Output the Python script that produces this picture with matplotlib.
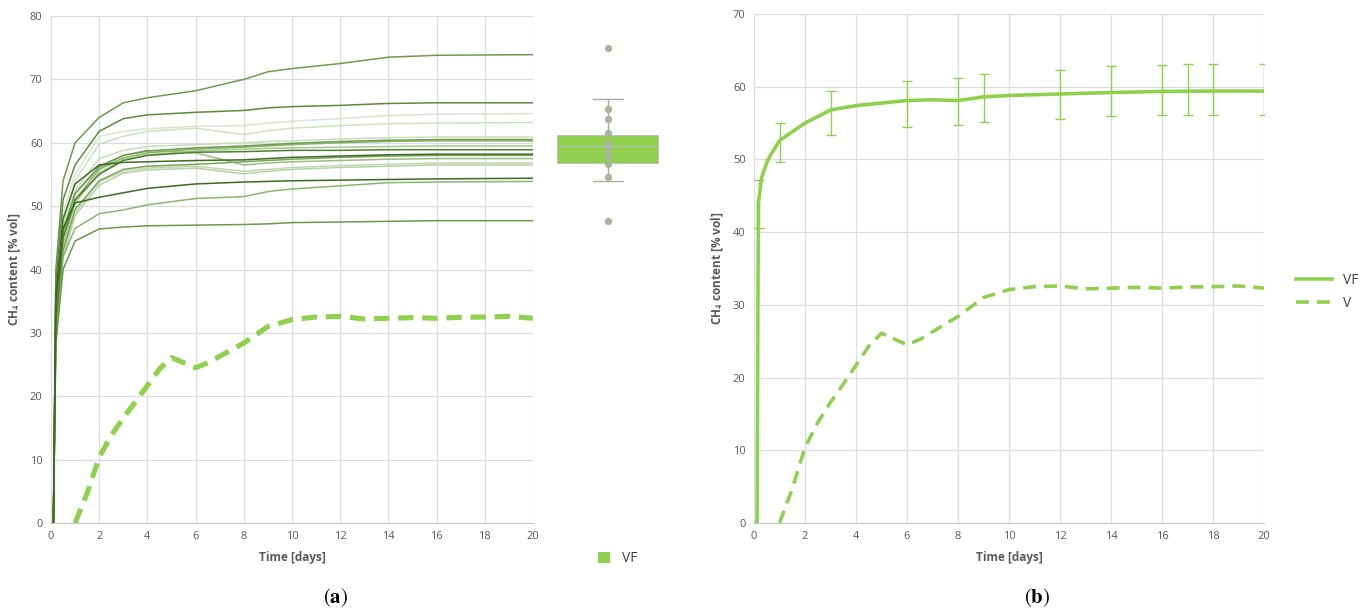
import numpy as np
import matplotlib
matplotlib.use("Agg")
import matplotlib.pyplot as plt
import matplotlib.patches as mpatches
from matplotlib.lines import Line2D

plt.rcParams["font.family"] = ["Open Sans", "DejaVu Sans"]
plt.rcParams["mathtext.fontset"] = "stix"

# time points (days) for the individual VF runs in panel (a)
run_time = [0, 0.1, 0.2, 0.5, 1, 2, 3, 4, 6, 8, 9, 10, 12, 14, 16, 20]
runs = [
    [0, 0, 40, 54, 60, 64.0, 66.3, 67.1, 68.2, 70.0, 71.2, 71.7, 72.5, 73.5, 73.8, 73.9],
    [0, 0, 38, 51, 56.5, 61.8, 63.8, 64.4, 64.8, 65.1, 65.5, 65.7, 65.9, 66.2, 66.3, 66.3],
    [0, 0, 36, 49, 55, 61.0, 61.8, 62.2, 62.6, 62.7, 63.1, 63.4, 63.8, 64.3, 64.5, 64.6],
    [0, 0, 35, 47, 54, 59.8, 61.0, 61.8, 62.3, 61.3, 61.9, 62.3, 62.7, 63.0, 63.1, 63.2],
    [0, 0, 34, 47, 52.5, 57.5, 58.8, 59.4, 59.7, 60.0, 60.2, 60.3, 60.6, 60.8, 60.9, 60.9],
    [0, 0, 33, 46, 52, 56.3, 58.0, 58.7, 59.2, 59.5, 59.7, 59.9, 60.2, 60.4, 60.5, 60.5],
    [0, 0, 32, 45, 51, 55.8, 57.6, 58.4, 59.0, 59.3, 59.5, 59.7, 60.0, 60.2, 60.3, 60.3],
    [0, 0, 31, 44, 50.5, 55.3, 57.3, 58.1, 58.7, 59.0, 59.1, 59.2, 59.3, 59.4, 59.5, 59.5],
    [0, 0, 33, 46, 52, 56.0, 58.0, 58.8, 58.4, 56.5, 56.8, 57.0, 57.2, 57.4, 57.5, 57.5],
    [0, 0, 36, 48, 53.5, 56.5, 56.9, 57.0, 57.2, 57.3, 57.5, 57.7, 57.9, 58.1, 58.2, 58.2],
    [0, 0, 32, 45, 51, 55.0, 57.2, 58.0, 58.5, 58.6, 58.7, 58.8, 58.8, 58.9, 58.9, 58.9],
    [0, 0, 30, 43, 49.5, 54.0, 55.8, 56.3, 56.6, 57.0, 57.2, 57.4, 57.7, 57.9, 58.0, 58.0],
    [0, 0, 30, 43, 49, 53.8, 55.5, 56.0, 56.3, 55.5, 55.8, 56.1, 56.4, 56.6, 56.8, 56.8],
    [0, 0, 29, 42, 48.5, 53.3, 55.2, 55.7, 56.0, 55.1, 55.5, 55.8, 56.1, 56.3, 56.5, 56.5],
    [0, 0, 35, 46.5, 50.5, 51.4, 52.1, 52.8, 53.5, 53.8, 53.9, 54.0, 54.1, 54.2, 54.3, 54.4],
    [0, 0, 30, 42, 46.5, 48.8, 49.4, 50.2, 51.2, 51.5, 52.3, 52.7, 53.2, 53.7, 53.8, 53.9],
    [0, 0, 28, 40, 44.5, 46.4, 46.7, 46.9, 47.0, 47.1, 47.2, 47.4, 47.5, 47.6, 47.7, 47.7],
]
run_colors = ["#6e9b4e", "#5d8a3c", "#d8e5cf", "#d0e0c5", "#c9dcbc", "#6f9c4f",
              "#8ab36c", "#a6c78e", "#9bbd83", "#3f6b24", "#4f7f33", "#7aa65a",
              "#c2d6b4", "#b8d0a6", "#3d6a22", "#8db572", "#6a9a4a"]

# V series (same in both panels)
v_time = [1, 1.5, 2, 2.5, 3, 3.5, 4, 4.5, 5, 5.5, 6, 6.5, 7, 8, 9, 10, 11, 12,
          13, 14, 15, 16, 17, 18, 19, 20]
v_vals = [0, 4.7, 10.4, 13.8, 16.6, 19.1, 21.7, 24.3, 26.1, 25.3, 24.5, 25.25,
          26.3, 28.4, 31.0, 32.1, 32.5, 32.6, 32.2, 32.3, 32.4, 32.3, 32.45,
          32.5, 32.6, 32.3]

# VF mean in panel (b)
vf_time = [0, 0.12, 0.17, 0.3, 0.55, 1, 2, 3, 4, 6, 7, 8, 9, 10, 12, 14, 16, 18, 20]
vf_vals = [0, 0, 44, 47.5, 50, 52.6, 55.0, 56.8, 57.4, 58.1, 58.2, 58.1, 58.6,
           58.8, 59.0, 59.2, 59.35, 59.4, 59.4]
err_time = [0.2, 1, 3, 6, 8, 9, 12, 14, 16, 17, 18, 20]
err_low = [40.55, 49.7, 53.35, 54.45, 54.7, 55.1, 55.55, 56.0, 56.15, 56.15, 56.15, 56.15]
err_high = [47.2, 55.0, 59.4, 60.8, 61.2, 61.7, 62.25, 62.9, 63.0, 63.1, 63.1, 63.1]

# box plot of final VF values
box_stats = dict(med=59.55, q1=56.8, q3=61.3, whislo=54.0, whishi=66.9,
                 fliers=[74.9, 47.7])
box_points = [65.3, 63.7, 61.6, 59.9, 58.9, 57.8, 56.6, 54.6]

green = "#8fd14f"
grid_c = "#dadde3"
tick_c = "#595959"

W, H = 1370, 612
fig = plt.figure(figsize=(W / 100, H / 100), dpi=100)


def ax_at(x0, x1, ytop, ybot):
    return fig.add_axes([x0 / W, (H - ybot) / H, (x1 - x0) / W, (ybot - ytop) / H])


def style(ax, ymax):
    ax.set_xlim(0, 20)
    ax.set_ylim(0, ymax)
    ax.set_xticks(range(0, 21, 2))
    ax.set_yticks(range(0, ymax + 1, 10))
    ax.grid(True, color=grid_c, lw=0.9)
    ax.set_axisbelow(True)
    for s in ["top", "right"]:
        ax.spines[s].set_visible(False)
    ax.spines["left"].set_color(grid_c)
    ax.spines["bottom"].set_color("#c4c8cf")
    ax.tick_params(length=0, labelsize=8, colors=tick_c, pad=6)
    ax.set_xlabel("Time [days]", fontsize=8.5, fontweight="bold", color=tick_c, labelpad=6)
    ax.set_ylabel(r"CH$_\mathbf{4}$ content [% vol]", fontsize=8.5,
                  fontweight="bold", color=tick_c, labelpad=6)


# panel (a)
ax1 = ax_at(51, 533, 16, 523)
style(ax1, 80)
order = np.argsort([-(int(c[1:3], 16) + int(c[3:5], 16)) for c in run_colors])
for rank, i in enumerate(order):
    ax1.plot(run_time, runs[i], color=run_colors[i], lw=1.1, zorder=2 + rank * 0.01)
ax1.plot(v_time, v_vals, color=green, lw=3.7, dashes=(3.0, 1.7), zorder=3,
         dash_capstyle="butt")

# box plot next to panel (a)
axb = ax_at(545, 670, 16, 523)
axb.set_xlim(0, 1)
axb.set_ylim(0, 80)
axb.axis("off")
axb.bxp([box_stats], positions=[0.5], widths=0.81, patch_artist=True,
        showfliers=False, capwidths=0.24,
        boxprops=dict(facecolor=green, edgecolor="#b9c2b0", lw=0.6),
        medianprops=dict(color="#b3bfa6", lw=1),
        whiskerprops=dict(color="#a9b19f", lw=1),
        capprops=dict(color="#a9b19f", lw=1))
axb.scatter([0.5] * len(box_points), box_points, s=18, color="#a8b59a", zorder=5)
axb.scatter([0.5] * len(box_stats["fliers"]), box_stats["fliers"], s=18,
            color="#a8b59a", zorder=5)
fig.legend(handles=[mpatches.Patch(facecolor=green, edgecolor="none", label="VF")],
           loc="center left", bbox_to_anchor=(585 / W, (H - 559) / H), frameon=False,
           fontsize=10, handlelength=0.9, handleheight=0.9, handletextpad=0.9,
           labelcolor="#404040")

# panel (b)
ax2 = ax_at(754, 1264, 14, 523)
style(ax2, 70)
ax2.plot(vf_time, vf_vals, color=green, lw=2.6, zorder=3, label="VF")
ax2.plot(v_time, v_vals, color=green, lw=2.6, dashes=(3.6, 2.2), zorder=3, label="V")
mid = [(lo + hi) / 2 for lo, hi in zip(err_low, err_high)]
half = [(hi - lo) / 2 for lo, hi in zip(err_low, err_high)]
ax2.errorbar(err_time, mid, yerr=half, fmt="none", ecolor=green, elinewidth=1,
             capsize=3.5, capthick=1, zorder=4)
fig.legend(handles=[Line2D([0], [0], color=green, lw=2.6, label="VF"),
                    Line2D([0], [0], color=green, lw=2.6, dashes=(3.6, 2.2), label="V")],
           loc="center left", bbox_to_anchor=(1283 / W, (H - 292) / H), frameon=False,
           fontsize=10, handlelength=2.6, handletextpad=0.8, labelspacing=0.6,
           labelcolor="#404040")

# captions
fig.text(336 / W, (H - 598) / H, r"$(\mathbf{a})$", fontsize=15, ha="center", va="center")
fig.text(1037 / W, (H - 598) / H, r"$(\mathbf{b})$", fontsize=15, ha="center", va="center")

fig.savefig("out.png", dpi=100)
